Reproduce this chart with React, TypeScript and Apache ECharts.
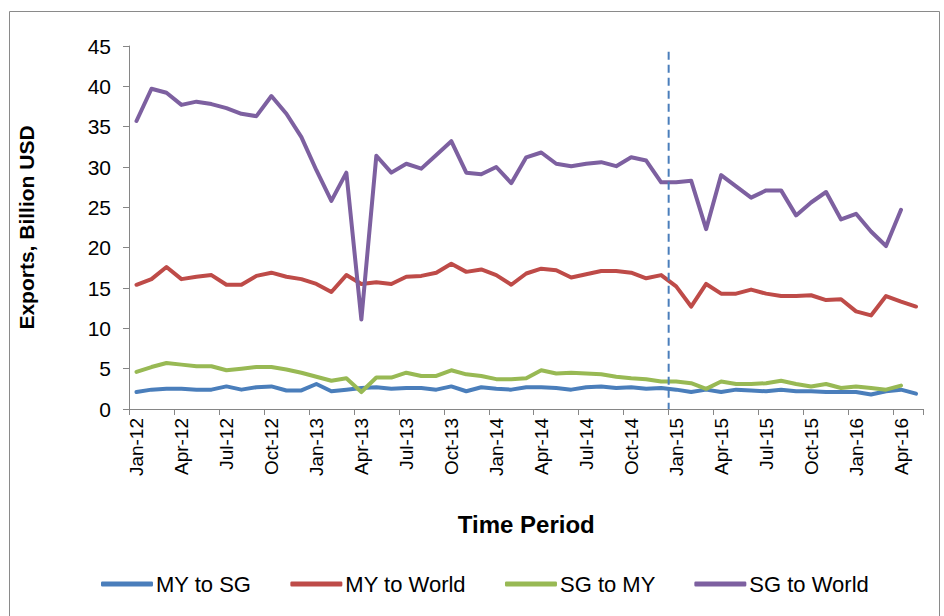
import React, { useEffect, useRef } from "react";
import * as echarts from "echarts";

const categories = [
  "Jan-12","Feb-12","Mar-12","Apr-12","May-12","Jun-12","Jul-12","Aug-12","Sep-12","Oct-12","Nov-12","Dec-12",
  "Jan-13","Feb-13","Mar-13","Apr-13","May-13","Jun-13","Jul-13","Aug-13","Sep-13","Oct-13","Nov-13","Dec-13",
  "Jan-14","Feb-14","Mar-14","Apr-14","May-14","Jun-14","Jul-14","Aug-14","Sep-14","Oct-14","Nov-14","Dec-14",
  "Jan-15","Feb-15","Mar-15","Apr-15","May-15","Jun-15","Jul-15","Aug-15","Sep-15","Oct-15","Nov-15","Dec-15",
  "Jan-16","Feb-16","Mar-16","Apr-16","May-16",
];

const myToSg = [
  2.1, 2.4, 2.5, 2.5, 2.4, 2.4, 2.8, 2.4, 2.7, 2.8, 2.3, 2.3,
  3.1, 2.2, 2.4, 2.6, 2.7, 2.5, 2.6, 2.6, 2.4, 2.8, 2.2, 2.7,
  2.5, 2.4, 2.7, 2.7, 2.6, 2.4, 2.7, 2.8, 2.6, 2.7, 2.5, 2.6,
  2.4, 2.1, 2.4, 2.1, 2.4, 2.3, 2.2, 2.4, 2.2, 2.2, 2.1, 2.1,
  2.1, 1.8, 2.2, 2.4, 1.9,
];

const myToWorld = [
  15.4, 16.1, 17.6, 16.1, 16.4, 16.6, 15.4, 15.4, 16.5, 16.9, 16.4, 16.1,
  15.5, 14.5, 16.6, 15.5, 15.7, 15.5, 16.4, 16.5, 16.9, 18.0, 17.0, 17.3,
  16.6, 15.4, 16.8, 17.4, 17.2, 16.3, 16.7, 17.1, 17.1, 16.9, 16.2, 16.6,
  15.2, 12.7, 15.5, 14.3, 14.3, 14.8, 14.3, 14.0, 14.0, 14.1, 13.5, 13.6,
  12.1, 11.6, 14.0, 13.3, 12.7,
];

const sgToMy = [
  4.6, 5.2, 5.7, 5.5, 5.3, 5.3, 4.8, 5.0, 5.2, 5.2, 4.9, 4.5,
  4.0, 3.5, 3.8, 2.1, 3.9, 3.9, 4.5, 4.1, 4.1, 4.8, 4.3, 4.1,
  3.7, 3.7, 3.8, 4.8, 4.4, 4.5, 4.4, 4.3, 4.0, 3.8, 3.7, 3.4,
  3.4, 3.2, 2.5, 3.4, 3.1, 3.1, 3.2, 3.5, 3.1, 2.8, 3.1, 2.6,
  2.8, 2.6, 2.4, 2.9, null,
];

const sgToWorld = [
  35.7, 39.7, 39.2, 37.7, 38.1, 37.8, 37.3, 36.6, 36.3, 38.8, 36.6, 33.7,
  29.6, 25.8, 29.3, 11.1, 31.4, 29.3, 30.4, 29.8, 31.5, 33.2, 29.3, 29.1,
  30.0, 28.0, 31.2, 31.8, 30.4, 30.1, 30.4, 30.6, 30.1, 31.2, 30.8, 28.1,
  28.1, 28.3, 22.3, 29.0, 27.6, 26.2, 27.1, 27.1, 24.0, 25.6, 26.9, 23.5,
  24.2, 22.0, 20.2, 24.7, null,
];

const seriesNames = ["MY to SG", "MY to World", "SG to MY", "SG to World"];
const seriesColors = ["#4A7EBB", "#BE4B48", "#98B954", "#7D60A0"];
const seriesData = [myToSg, myToWorld, sgToMy, sgToWorld];

const dividerBefore = "Dec-14";
const dividerAfter = "Jan-15";
const dividerTop = 44.3;

export default function App() {
  const ref = useRef<HTMLDivElement>(null);

  useEffect(() => {
    document.body.style.margin = "0";
    const chart = echarts.init(ref.current as HTMLDivElement, null, { renderer: "svg" });
    const font = "Arial, 'Liberation Sans', sans-serif";
    chart.setOption({
      animation: false,
      backgroundColor: "#ffffff",
      grid: { left: 129, right: 20.5, top: 46, bottom: 207, containLabel: false },
      legend: {
        data: seriesNames.map((n) => ({ name: n, icon: "roundRect" })),
        left: 96,
        top: 568,
        itemWidth: 52,
        itemHeight: 5,
        itemGap: 39,
        textStyle: { fontFamily: font, fontSize: 22, color: "#000", padding: [0, 0, 0, -2] },
      },
      xAxis: {
        type: "category",
        data: categories,
        boundaryGap: true,
        name: "Time Period",
        nameLocation: "middle",
        nameGap: 103,
        nameTextStyle: { fontFamily: font, fontSize: 24, fontWeight: "bold", color: "#000" },
        axisLine: { show: true, lineStyle: { color: "#868686", width: 1 } },
        axisTick: { show: true, interval: 2, length: 6, lineStyle: { color: "#868686" } },
        axisLabel: {
          interval: 2,
          rotate: 90,
          margin: 9,
          fontFamily: font,
          fontSize: 19,
          color: "#000",
        },
        splitLine: { show: false },
      },
      yAxis: {
        type: "value",
        min: 0,
        max: 45,
        interval: 5,
        name: "Exports, Billion USD",
        nameLocation: "middle",
        nameGap: 92,
        nameTextStyle: { fontFamily: font, fontSize: 21, fontWeight: "bold", color: "#000" },
        axisLine: { show: true, lineStyle: { color: "#868686", width: 1 } },
        axisTick: { show: true, length: 6, lineStyle: { color: "#868686" } },
        axisLabel: { margin: 18, fontFamily: font, fontSize: 21, color: "#000" },
        splitLine: { show: false },
      },
      series: seriesNames.map((name, i) => ({
        name,
        type: "line",
        data: seriesData[i],
        symbol: "none",
        connectNulls: false,
        lineStyle: { color: seriesColors[i], width: 4, cap: "round", join: "round" },
        itemStyle: { color: seriesColors[i] },
      })),
    });

    const xa = chart.convertToPixel({ xAxisIndex: 0 }, dividerBefore) as number;
    const xb = chart.convertToPixel({ xAxisIndex: 0 }, dividerAfter) as number;
    const xm = (xa + xb) / 2;
    const yTop = chart.convertToPixel({ yAxisIndex: 0 }, dividerTop) as number;
    const yBot = chart.convertToPixel({ yAxisIndex: 0 }, 0) as number;

    chart.setOption({
      graphic: [
        {
          type: "rect",
          shape: { x: 9.5, y: 11.5, width: 930, height: 640 },
          style: { fill: "none", stroke: "#8a8a8a", lineWidth: 1 },
          silent: true,
        },
        {
          type: "line",
          shape: { x1: xm, y1: yTop, x2: xm, y2: yBot },
          style: { stroke: "#4A7EBB", lineWidth: 2, lineDash: [8, 5] },
          silent: true,
          z: 100,
        },
      ],
    });

    return () => chart.dispose();
  }, []);

  return <div ref={ref} style={{ width: 944, height: 616 }} />;
}
